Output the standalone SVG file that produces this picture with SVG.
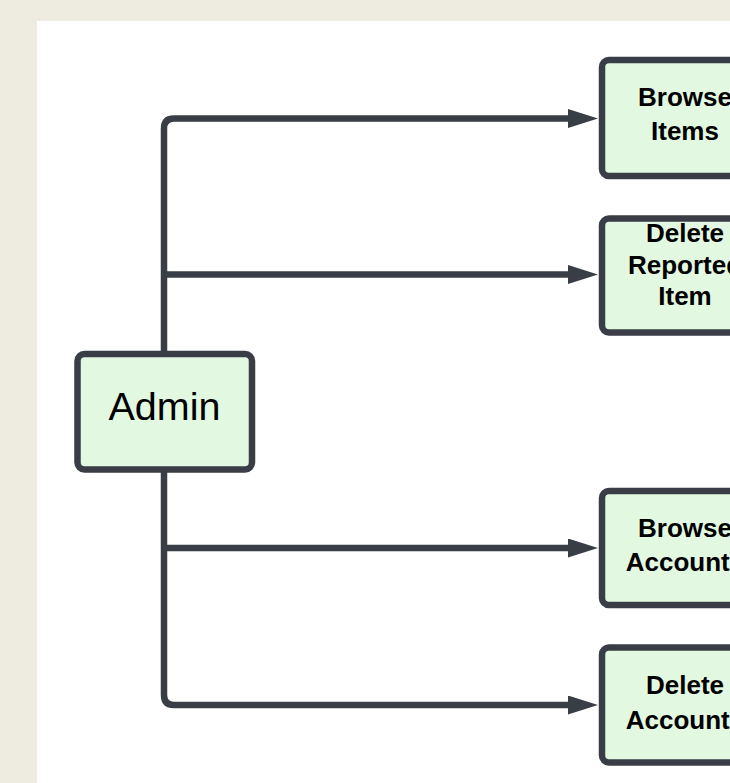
<svg xmlns="http://www.w3.org/2000/svg" width="730" height="783" viewBox="0 0 730 783">
<style>
.node rect{fill:#E2F8E1;stroke:#393E46;stroke-width:6.5}
.lbl{font-family:"Liberation Sans",Arial,sans-serif;font-weight:bold;font-size:26px;fill:#000;text-anchor:middle}
.conn path{fill:none;stroke:#393E46;stroke-width:6.5}
</style>
<defs>
<marker id="ah" markerUnits="userSpaceOnUse" markerWidth="32" markerHeight="22" refX="7" refY="9.5" orient="auto">
<path d="M0,0 L30,9.5 L0,19 z" fill="#393E46"/>
</marker>
</defs>
<rect x="0" y="0" width="730" height="783" fill="#EEEBE1"/>
<rect x="37" y="21" width="693" height="762" fill="#FFFFFF"/>
<g class="conn" id="connectors">
<path d="M164 354 V128.5 Q164 118.5 174 118.5 H575" marker-end="url(#ah)"/>
<path d="M164 274.5 H575" marker-end="url(#ah)"/>
<path d="M164 548 H575" marker-end="url(#ah)"/>
<path d="M164 470 V695 Q164 705 174 705 H575" marker-end="url(#ah)"/>
</g>
<g class="node" id="admin">
<rect x="77.5" y="354" width="174.5" height="115.5" rx="7"/>
<text x="164.5" y="420" font-family="Liberation Sans,Arial,sans-serif" font-size="39.5" text-anchor="middle" fill="#000">Admin</text>
</g>
<g class="node" id="browse-items">
<rect x="602" y="60" width="170" height="116" rx="7"/>
<text class="lbl" x="685" y="106">Browse</text>
<text class="lbl" x="685" y="140">Items</text>
</g>
<g class="node" id="delete-reported-item">
<rect x="602" y="218.5" width="170" height="114" rx="7"/>
<text class="lbl" x="685" y="242">Delete</text>
<text class="lbl" x="685" y="273.5">Reported</text>
<text class="lbl" x="685" y="305">Item</text>
</g>
<g class="node" id="browse-accounts">
<rect x="602" y="491" width="170" height="114" rx="7"/>
<text class="lbl" x="685" y="537">Browse</text>
<text class="lbl" x="685" y="570.5">Accounts</text>
</g>
<g class="node" id="delete-accounts">
<rect x="602" y="647.5" width="170" height="115" rx="7"/>
<text class="lbl" x="685" y="693.5">Delete</text>
<text class="lbl" x="685" y="728.5">Accounts</text>
</g>
</svg>
